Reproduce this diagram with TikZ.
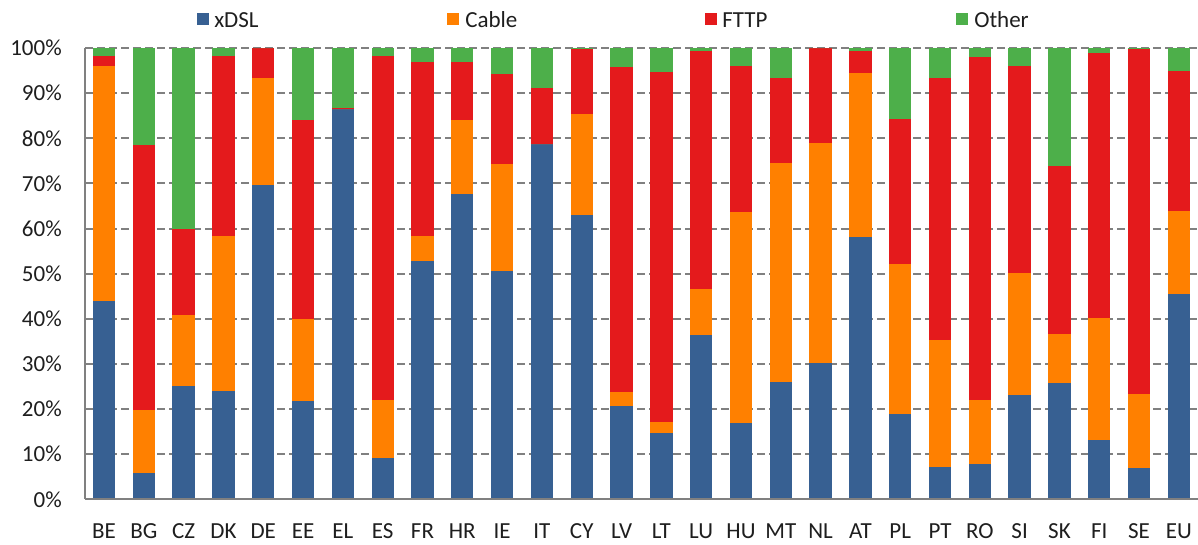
\documentclass[tikz,border=0pt]{standalone}
\usepackage{fontspec}
\setmainfont{Carlito}
\definecolor{cxdsl}{HTML}{376092}
\definecolor{ccable}{HTML}{FF8000}
\definecolor{cfttp}{HTML}{E41A1C}
\definecolor{cother}{HTML}{4DAF4A}
\definecolor{cgrid}{HTML}{808080}
\definecolor{ctext}{HTML}{1E1E1E}
\begin{document}
\begin{tikzpicture}[x=0.75pt,y=-0.75pt,
  gridline/.style={cgrid,line width=1.5pt,dash pattern=on 6pt off 3pt},
  axisline/.style={cgrid,line width=1.5pt},
  lbl/.style={text=ctext,font=\fontsize{17.25}{20}\selectfont,inner sep=0pt},
  legsq/.style={minimum size=9pt,inner sep=0pt,draw=none}]
\useasboundingbox (0,0) rectangle (1198,545);
\def\yz{499.3}
\def\sc{4.513}
% grid and tick labels
\foreach \v in {10,20,...,100}{
  \pgfmathsetmacro\yy{\yz-\sc*\v}
  \draw[gridline] (85,\yy) -- (1198,\yy);
}
\foreach \v in {0,10,...,100}{
  \pgfmathsetmacro\yy{\yz-\sc*\v}
  \node[lbl,anchor=east] (t\v) at (62,\yy) {\v\%};
}
% bars
\foreach \i/\lab/\a/\b/\c in {
 0/BE/44.0/52.0/2.2, 1/BG/5.9/13.9/58.6, 2/CZ/25.2/15.6/19.1, 3/DK/24.0/34.4/39.8,
 4/DE/69.6/23.8/6.6, 5/EE/21.8/18.2/44.0, 6/EL/86.4/0.0/0.3, 7/ES/9.2/12.8/76.2,
 8/FR/52.8/5.6/38.4, 9/HR/67.6/16.4/12.8, 10/IE/50.5/23.9/19.9, 11/IT/78.7/0.0/12.4,
 12/CY/63.0/22.4/14.5, 13/LV/20.6/3.1/72.0, 14/LT/14.6/2.6/77.4, 15/LU/36.3/10.2/52.9,
 16/HU/16.9/46.7/32.4, 17/MT/26.0/48.6/18.8, 18/NL/30.3/48.6/21.1, 19/AT/58.2/36.3/4.8,
 20/PL/18.9/33.2/32.2, 21/PT/7.2/28.2/58.0, 22/RO/7.8/14.2/75.9, 23/SI/23.1/27.0/45.9,
 24/SK/25.7/10.9/37.3, 25/FI/13.2/27.0/58.6, 26/SE/6.9/16.5/76.3, 27/EU/45.6/18.3/31.0}{
  \pgfmathsetmacro\xc{104+39.81*\i}
  \pgfmathsetmacro\xl{\xc-11.15}
  \pgfmathsetmacro\xr{\xc+11.15}
  \pgfmathsetmacro\ya{\yz-\sc*\a}
  \pgfmathsetmacro\yb{\yz-\sc*(\a+\b)}
  \pgfmathsetmacro\yc{\yz-\sc*(\a+\b+\c)}
  \pgfmathsetmacro\yd{\yz-\sc*100}
  \fill[cxdsl] (\xl,\yz) rectangle (\xr,\ya);
  \fill[ccable] (\xl,\ya) rectangle (\xr,\yb);
  \fill[cfttp] (\xl,\yb) rectangle (\xr,\yc);
  \fill[cother] (\xl,\yc) rectangle (\xr,\yd);
  \node[lbl] (c\lab) at (\xc,531) {\lab};
}
% axes
\draw[axisline] (85,48) -- (85,\yz);
\draw[axisline] (85,\yz) -- (1198,\yz);
% legend
\node[legsq,fill=cxdsl] (s1) at (202.5,19.5) {};
\node[lbl,anchor=west] (l1) at (214,20) {xDSL};
\node[legsq,fill=ccable] (s2) at (453,19.5) {};
\node[lbl,anchor=west] (l2) at (465,20) {Cable};
\node[legsq,fill=cfttp] (s3) at (711,19.5) {};
\node[lbl,anchor=west] (l3) at (722,20) {FTTP};
\node[legsq,fill=cother] (s4) at (961.5,19.5) {};
\node[lbl,anchor=west] (l4) at (974,20) {Other};
\end{tikzpicture}
\end{document}
